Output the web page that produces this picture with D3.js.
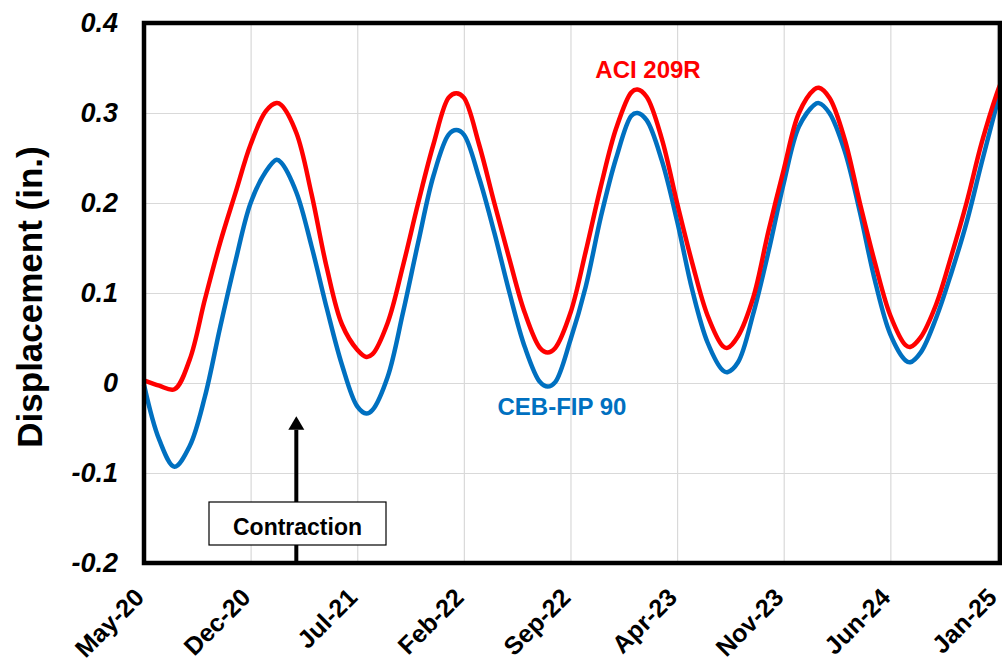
<!DOCTYPE html>
<html>
<head>
<meta charset="utf-8">
<script src="https://cdn.jsdelivr.net/npm/d3@7"></script>
<style>
  html, body { margin: 0; padding: 0; background: #ffffff; }
  svg { display: block; font-family: "Liberation Sans", Arial, sans-serif; }
</style>
</head>
<body>
<svg id="chart" width="1002" height="668"></svg>
<script>
// ---- data (months since May-2020, displacement in inches) ----
const tickMonths = [0, 7, 14, 21, 28, 35, 42, 49, 56];
const tickLabels = ["May-20", "Dec-20", "Jul-21", "Feb-22", "Sep-22", "Apr-23", "Nov-23", "Jun-24", "Jan-25"];
const yTicks = [-0.2, -0.1, 0, 0.1, 0.2, 0.3, 0.4];
const yTickLabels = ["-0.2", "-0.1", "0", "0.1", "0.2", "0.3", "0.4"];

const months = [0, 1, 2, 3, 4, 5, 6, 7, 8, 8.7,
  9, 10, 11, 12, 13, 14, 14.6, 15, 16, 17,
  18, 19, 20, 20.5, 21, 22, 23, 24, 25, 26,
  26.5, 27, 28, 29, 30, 31, 32, 32.4, 33, 34,
  35, 36, 37, 38, 38.3, 39, 40, 41, 42, 43,
  44, 44.3, 45, 46, 47, 48, 49, 50, 50.3, 51,
  52, 53, 54, 55, 56, 56.2];

const aciValues = [0.003, -0.003, -0.007, 0.026, 0.093, 0.156, 0.211, 0.265, 0.302, 0.311,
  0.309, 0.278, 0.21, 0.128, 0.065, 0.037, 0.029, 0.032, 0.067, 0.13,
  0.2, 0.265, 0.317, 0.322, 0.317, 0.265, 0.2, 0.137, 0.078, 0.039,
  0.034, 0.039, 0.078, 0.146, 0.219, 0.283, 0.323, 0.326, 0.318, 0.271,
  0.2, 0.133, 0.075, 0.041, 0.039, 0.052, 0.095, 0.169, 0.237, 0.3,
  0.326, 0.328, 0.317, 0.271, 0.2, 0.133, 0.075, 0.042, 0.040, 0.051,
  0.087, 0.141, 0.2, 0.267, 0.322, 0.331];

const cebValues = [-0.002, -0.063, -0.093, -0.07, -0.015, 0.062, 0.135, 0.2, 0.235, 0.248,
  0.245, 0.212, 0.152, 0.083, 0.02, -0.026, -0.034, -0.030, 0.007, 0.078,
  0.156, 0.23, 0.276, 0.281, 0.276, 0.228, 0.167, 0.1, 0.04, 0.001,
  -0.004, 0.001, 0.048, 0.107, 0.185, 0.25, 0.297, 0.300, 0.292, 0.247,
  0.18, 0.103, 0.045, 0.014, 0.012, 0.023, 0.077, 0.146, 0.222, 0.285,
  0.309, 0.311, 0.300, 0.258, 0.19, 0.113, 0.054, 0.025, 0.023, 0.034,
  0.072, 0.122, 0.178, 0.245, 0.31, 0.323];

const seriesNames = ["ACI 209R", "CEB-FIP 90"];
const seriesColors = ["#ff0000", "#0070c0"];
const annotationText = "Contraction";
const yTitle = "Displacement (in.)";

// ---- layout ----
const plot = { left: 144, top: 23, right: 1000, bottom: 563 };
const svg = d3.select("#chart");

const x = d3.scaleLinear().domain([0, 56.2]).range([plot.left, plot.right]);
const y = d3.scaleLinear().domain([-0.2, 0.4]).range([plot.bottom, plot.top]);

// gridlines
svg.append("g")
  .attr("transform", `translate(0,${plot.bottom})`)
  .call(d3.axisBottom(x).tickValues(tickMonths).tickSize(-(plot.bottom - plot.top)).tickFormat(""))
  .call(g => g.select(".domain").remove())
  .call(g => g.selectAll("line").attr("stroke", "#d9d9d9").attr("stroke-width", 1.2));

svg.append("g")
  .attr("transform", `translate(${plot.left},0)`)
  .call(d3.axisLeft(y).tickValues(yTicks).tickSize(-(plot.right - plot.left)).tickFormat(""))
  .call(g => g.select(".domain").remove())
  .call(g => g.selectAll("line").attr("stroke", "#d9d9d9").attr("stroke-width", 1.2));

// y tick labels
svg.append("g")
  .attr("transform", `translate(${plot.left},0)`)
  .call(d3.axisLeft(y).tickValues(yTicks).tickSize(0).tickPadding(26)
    .tickFormat((d, i) => yTickLabels[i]))
  .call(g => g.select(".domain").remove())
  .call(g => g.selectAll("text")
    .attr("font-family", "'Liberation Sans', Arial, sans-serif")
    .attr("font-size", 27).attr("font-weight", "bold").attr("font-style", "italic")
    .attr("fill", "#000"));

// x tick labels
svg.append("g")
  .attr("transform", `translate(0,${plot.bottom})`)
  .call(d3.axisBottom(x).tickValues(tickMonths).tickSize(0)
    .tickFormat((d, i) => tickLabels[i]))
  .call(g => g.select(".domain").remove())
  .call(g => g.selectAll("text")
    .attr("font-family", "'Liberation Sans', Arial, sans-serif")
    .attr("font-size", 25).attr("font-weight", "bold")
    .attr("fill", "#000")
    .attr("text-anchor", "end")
    .attr("dy", 0)
    .attr("y", 0)
    .attr("transform", "translate(1,36) rotate(-45)"));

// y title
svg.append("text")
  .attr("transform", `translate(42,${(plot.top + plot.bottom) / 2 + 4}) rotate(-90)`)
  .attr("text-anchor", "middle")
  .attr("font-size", 35).attr("font-weight", "bold")
  .attr("fill", "#000")
  .text(yTitle);

// arrow + annotation box
const arrowX = x(10);
svg.append("line")
  .attr("x1", arrowX).attr("x2", arrowX)
  .attr("y1", plot.bottom - 2).attr("y2", y(-0.052))
  .attr("stroke", "#000").attr("stroke-width", 4);
svg.append("path")
  .attr("d", `M${arrowX - 8},${y(-0.052)} L${arrowX + 8},${y(-0.052)} L${arrowX},${y(-0.037)} Z`)
  .attr("fill", "#000");
svg.append("rect")
  .attr("x", 209).attr("y", 502).attr("width", 177).attr("height", 43)
  .attr("fill", "#fff").attr("stroke", "#000").attr("stroke-width", 1.2);
svg.append("text")
  .attr("x", 297.5).attr("y", 535)
  .attr("text-anchor", "middle")
  .attr("font-size", 23).attr("font-weight", "bold").attr("fill", "#000")
  .text(annotationText);

// series lines
const line = d3.line().curve(d3.curveCatmullRom.alpha(0.5)).x(d => x(d[0])).y(d => y(d[1]));
const series = [
  { values: cebValues, color: seriesColors[1] },
  { values: aciValues, color: seriesColors[0] }
];
series.forEach(s => {
  svg.append("path")
    .datum(months.map((m, i) => [m, s.values[i]]))
    .attr("fill", "none")
    .attr("stroke", s.color)
    .attr("stroke-width", 4.5)
    .attr("stroke-linejoin", "round")
    .attr("d", line);
});

// plot frame
svg.append("rect")
  .attr("x", plot.left).attr("y", plot.top)
  .attr("width", plot.right - plot.left).attr("height", plot.bottom - plot.top)
  .attr("fill", "none").attr("stroke", "#000").attr("stroke-width", 4.5);

// series labels
svg.append("text")
  .attr("x", 648).attr("y", 78)
  .attr("text-anchor", "middle")
  .attr("font-size", 24).attr("font-weight", "bold")
  .attr("fill", seriesColors[0])
  .text(seriesNames[0]);
svg.append("text")
  .attr("x", 562).attr("y", 415)
  .attr("text-anchor", "middle")
  .attr("font-size", 24).attr("font-weight", "bold")
  .attr("fill", seriesColors[1])
  .text(seriesNames[1]);
</script>
</body>
</html>
